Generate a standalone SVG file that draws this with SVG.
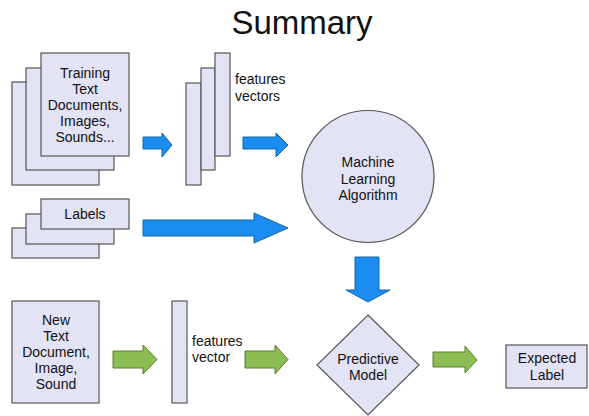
<svg xmlns="http://www.w3.org/2000/svg" width="589" height="416" viewBox="0 0 589 416">
<style>
.n{fill:#e3e3f6;stroke:#555;stroke-width:1.2}
.t{font-family:"Liberation Sans",Arial,sans-serif;font-size:14px;fill:#111;text-anchor:middle}
.tl{font-family:"Liberation Sans",Arial,sans-serif;font-size:14px;fill:#111}
.b{fill:#1b8cf0;stroke:#1766a8;stroke-width:1}
.g{fill:#8cbd52;stroke:#5b7d31;stroke-width:1}
</style>
<rect width="589" height="416" fill="#fff"/>
<text x="302" y="34" font-family="'Liberation Sans',Arial,sans-serif" font-size="33" text-anchor="middle" fill="#111">Summary</text>
<g id="training">
<rect class="n" x="12" y="82" width="87" height="103"/>
<rect class="n" x="26" y="68" width="88" height="102"/>
<rect class="n" x="41" y="53" width="88" height="103"/>
<text class="t" x="85" y="78">Training</text>
<text class="t" x="85" y="94">Text</text>
<text class="t" x="85" y="110">Documents,</text>
<text class="t" x="85" y="126">Images,</text>
<text class="t" x="85" y="142">Sounds...</text>
</g>
<g id="featvecs">
<rect class="n" x="186" y="83" width="15" height="102"/>
<rect class="n" x="201" y="68" width="14" height="102"/>
<rect class="n" x="215" y="53" width="15" height="103"/>
<text class="tl" x="235" y="84">features</text>
<text class="tl" x="235" y="101">vectors</text>
</g>
<g id="labels">
<rect class="n" x="12" y="228" width="87" height="30"/>
<rect class="n" x="26" y="214" width="88" height="30"/>
<rect class="n" x="41" y="199" width="88" height="30"/>
<text class="t" x="85" y="219">Labels</text>
</g>
<g id="mla">
<circle class="n" cx="368" cy="176.5" r="66"/>
<text class="t" x="368" y="167">Machine</text>
<text class="t" x="368" y="184">Learning</text>
<text class="t" x="368" y="200">Algorithm</text>
</g>
<g id="newdoc">
<rect class="n" x="12" y="301" width="87" height="102"/>
<text class="t" x="56" y="325">New</text>
<text class="t" x="56" y="341">Text</text>
<text class="t" x="56" y="357">Document,</text>
<text class="t" x="56" y="373">Image,</text>
<text class="t" x="56" y="389">Sound</text>
</g>
<g id="featvec">
<rect class="n" x="172" y="301" width="15" height="102"/>
<text class="tl" x="192" y="346">features</text>
<text class="tl" x="192" y="362">vector</text>
</g>
<g id="model">
<polygon class="n" points="368,315 419,365 368,415 317,365"/>
<text class="t" x="368" y="364">Predictive</text>
<text class="t" x="368" y="380">Model</text>
</g>
<g id="expected">
<rect class="n" x="506" y="345" width="81" height="43"/>
<text class="t" x="547" y="363">Expected</text>
<text class="t" x="547" y="380">Label</text>
</g>
<g id="connectors">
<polygon class="b" points="143,137 162,137 162,133 172,145 162,157 162,149 143,149"/>
<polygon class="b" points="243,137 276,137 276,133 288,145 276,157 276,149 243,149"/>
<polygon class="b" points="143,220 254,220 254,213 288,228 254,243 254,236 143,236"/>
<polygon class="b" points="355,257 379,257 379,290 390,290 368,302 346,290 355,290"/>
<polygon class="g" points="113,351 143,351 143,345 157,359.5 143,374 143,368 113,368"/>
<polygon class="g" points="245,351 275,351 275,345 288,359.5 275,374 275,368 245,368"/>
<polygon class="g" points="433,352 465,352 465,346 477,360 465,373 465,367 433,367"/>
</g>
</svg>
